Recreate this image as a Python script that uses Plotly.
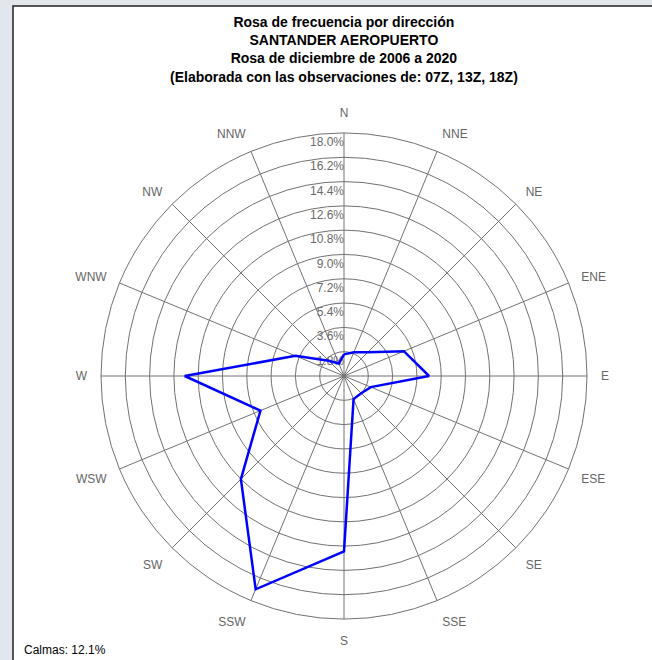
import plotly.graph_objects as go

directions = ["N", "NNE", "NE", "ENE", "E", "ESE", "SE", "SSE",
              "S", "SSW", "SW", "WSW", "W", "WNW", "NW", "NNW"]
angles = [i * 22.5 for i in range(16)]
frequency = [1.6, 1.9, 2.5, 4.8, 6.3, 2.15, 1.8, 1.85,
             13.0, 17.1, 10.8, 6.7, 11.8, 3.9, 1.6, 1.0]
ring_values = [1.8, 3.6, 5.4, 7.2, 9.0, 10.8, 12.6, 14.4, 16.2, 18.0]
ring_labels = ["1.8%", "3.6%", "5.4%", "7.2%", "9.0%", "10.8%", "12.6%", "14.4%", "16.2%", "18.0%"]
title_lines = ["Rosa de frecuencia por dirección", "SANTANDER AEROPUERTO",
               "Rosa de diciembre de 2006 a 2020",
               "(Elaborada con las observaciones de: 07Z, 13Z, 18Z)"]
calmas_text = "Calmas: 12.1%"

W, H = 652, 660
cx, cy, R = 344, 376, 243
label_drop = 0.3  # small downward nudge of ring labels (in % units)

fig = go.Figure()
fig.add_trace(go.Scatterpolar(
    r=[v - label_drop for v in ring_values], theta=[0] * len(ring_values), mode="text",
    text=ring_labels, textposition="bottom left",
    textfont=dict(family="Liberation Sans, Arial", size=12, color="#6a6a6a"),
    hoverinfo="skip", showlegend=False))
fig.add_trace(go.Scatterpolar(
    r=frequency + frequency[:1], theta=angles + angles[:1], mode="lines",
    line=dict(color="#0000ff", width=2.5), showlegend=False))

fig.update_layout(
    width=W, height=H,
    margin=dict(l=0, r=0, t=0, b=0),
    paper_bgcolor="#e2e7ed",
    showlegend=False,
    polar=dict(
        domain=dict(x=[(cx - R) / W, (cx + R) / W], y=[1 - (cy + R) / H, 1 - (cy - R) / H]),
        bgcolor="white",
        radialaxis=dict(range=[0, 18], tickvals=ring_values, showticklabels=False,
                        ticks="", showline=False, gridcolor="#727272", gridwidth=1),
        angularaxis=dict(rotation=90, direction="clockwise", tickmode="array",
                         tickvals=angles, ticktext=directions,
                         ticks="outside", ticklen=11, tickcolor="rgba(0,0,0,0)",
                         showline=True, linecolor="#727272", linewidth=1,
                         gridcolor="#727272", gridwidth=1,
                         tickfont=dict(family="Liberation Sans, Arial", size=12, color="#666666")),
    ),
    shapes=[dict(type="rect", xref="paper", yref="paper",
                 x0=13 / W, x1=1.05, y0=-0.05, y1=1 - 6 / H,
                 fillcolor="white", line=dict(color="#202020", width=1.5), layer="below")],
    annotations=[
        dict(text="<br>".join(title_lines), xref="paper", yref="paper",
             x=cx / W, y=1 - 12 / H, xanchor="center", yanchor="top", showarrow=False,
             font=dict(family="Liberation Sans, Arial", size=14, color="black", weight="bold"),
             align="center"),
        dict(text=calmas_text, xref="paper", yref="paper",
             x=22 / W, y=1 - 659 / H, xanchor="left", yanchor="bottom", showarrow=False,
             font=dict(family="Liberation Sans, Arial", size=12, color="black")),
    ],
)

fig.write_html("out.html", config={"displayModeBar": False},
               post_script="document.body.style.margin='0px';document.body.style.overflow='hidden';")
